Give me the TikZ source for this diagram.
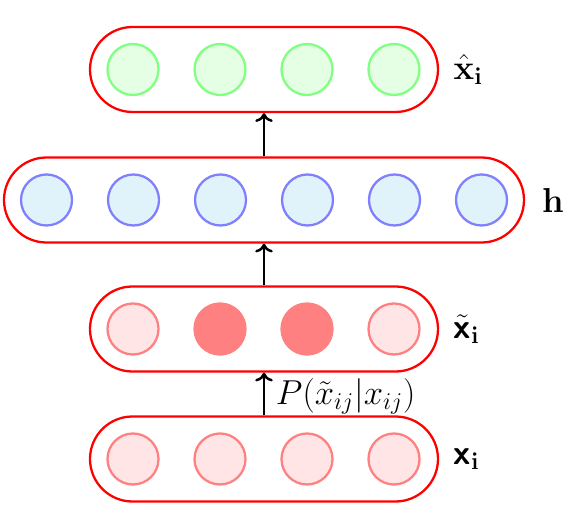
\documentclass[tikz,border=0pt]{standalone}
\usepackage{amsmath}
\usetikzlibrary{positioning,arrows.meta}
\definecolor{hidfill}{RGB}{224,242,250}
\tikzset{
  layer/.style={draw=red, line width=1.3pt, rounded corners=0.85cm, minimum height=1.7cm, inner sep=0pt},
  unit/.style={circle, line width=1.3pt, minimum size=1.02cm, inner sep=0pt},
  outunit/.style={unit, draw=green!50, fill=green!10},
  hidunit/.style={unit, draw=blue!50, fill=hidfill},
  inunit/.style={unit, draw=red!50, fill=red!10},
  dropunit/.style={unit, draw=red!50, fill=red!50},
  lbl/.style={font=\LARGE, scale=1.14, transform shape},
  flow/.style={-{To[length=5pt, width=10pt]}, line width=1.4pt},
}
\begin{document}
\begin{tikzpicture}[scale=1]
  \useasboundingbox (0,0) rectangle (11.4,10.48);

  % Layers
  \node[layer, minimum width=6.96cm] (outl) at (5.28, 9.09) {};
  \node[layer, minimum width=10.4cm] (hidl) at (5.28, 6.48) {};
  \node[layer, minimum width=6.96cm] (noil) at (5.28, 3.90) {};
  \node[layer, minimum width=6.96cm] (inl)  at (5.28, 1.30) {};

  % Units
  \node[outunit] (o1) at (2.66, 9.09) {};
  \node[outunit] (o2) at (4.40, 9.09) {};
  \node[outunit] (o3) at (6.14, 9.09) {};
  \node[outunit] (o4) at (7.88, 9.09) {};

  \node[hidunit] (h1) at (0.93, 6.48) {};
  \node[hidunit] (h2) at (2.67, 6.48) {};
  \node[hidunit] (h3) at (4.41, 6.48) {};
  \node[hidunit] (h4) at (6.15, 6.48) {};
  \node[hidunit] (h5) at (7.89, 6.48) {};
  \node[hidunit] (h6) at (9.63, 6.48) {};

  \node[inunit]   (n1) at (2.66, 3.90) {};
  \node[dropunit] (n2) at (4.40, 3.90) {};
  \node[dropunit] (n3) at (6.14, 3.90) {};
  \node[inunit]   (n4) at (7.88, 3.90) {};

  \node[inunit] (i1) at (2.66, 1.30) {};
  \node[inunit] (i2) at (4.40, 1.30) {};
  \node[inunit] (i3) at (6.14, 1.30) {};
  \node[inunit] (i4) at (7.88, 1.30) {};

  % Labels
  \node[lbl, right=0.15cm of outl] (outlbl) {$\hat{\mathbf{x}}_{\mathbf{i}}$};
  \node[lbl, right=0.2cm of hidl] (hidlbl) {$\mathbf{h}$};
  \node[lbl, right=0.15cm of noil] (noilbl) {$\tilde{\textbf{\textsf{x}}}_{\mathbf{i}}$};
  \node[lbl, right=0.15cm of inl]  (inlbl)  {$\textbf{\textsf{x}}_{\mathbf{i}}$};

  % Drawing
  \draw[flow] (inl.north) -- (noil.south)
    node[lbl, midway, right, inner sep=1pt, xshift=0.15cm, yshift=-0.04cm] (plbl) {$P(\tilde{x}_{ij}|x_{ij})$};
  \draw[flow] (noil.north) -- (hidl.south);
  \draw[flow] (hidl.north) -- (outl.south);
\end{tikzpicture}
\end{document}
